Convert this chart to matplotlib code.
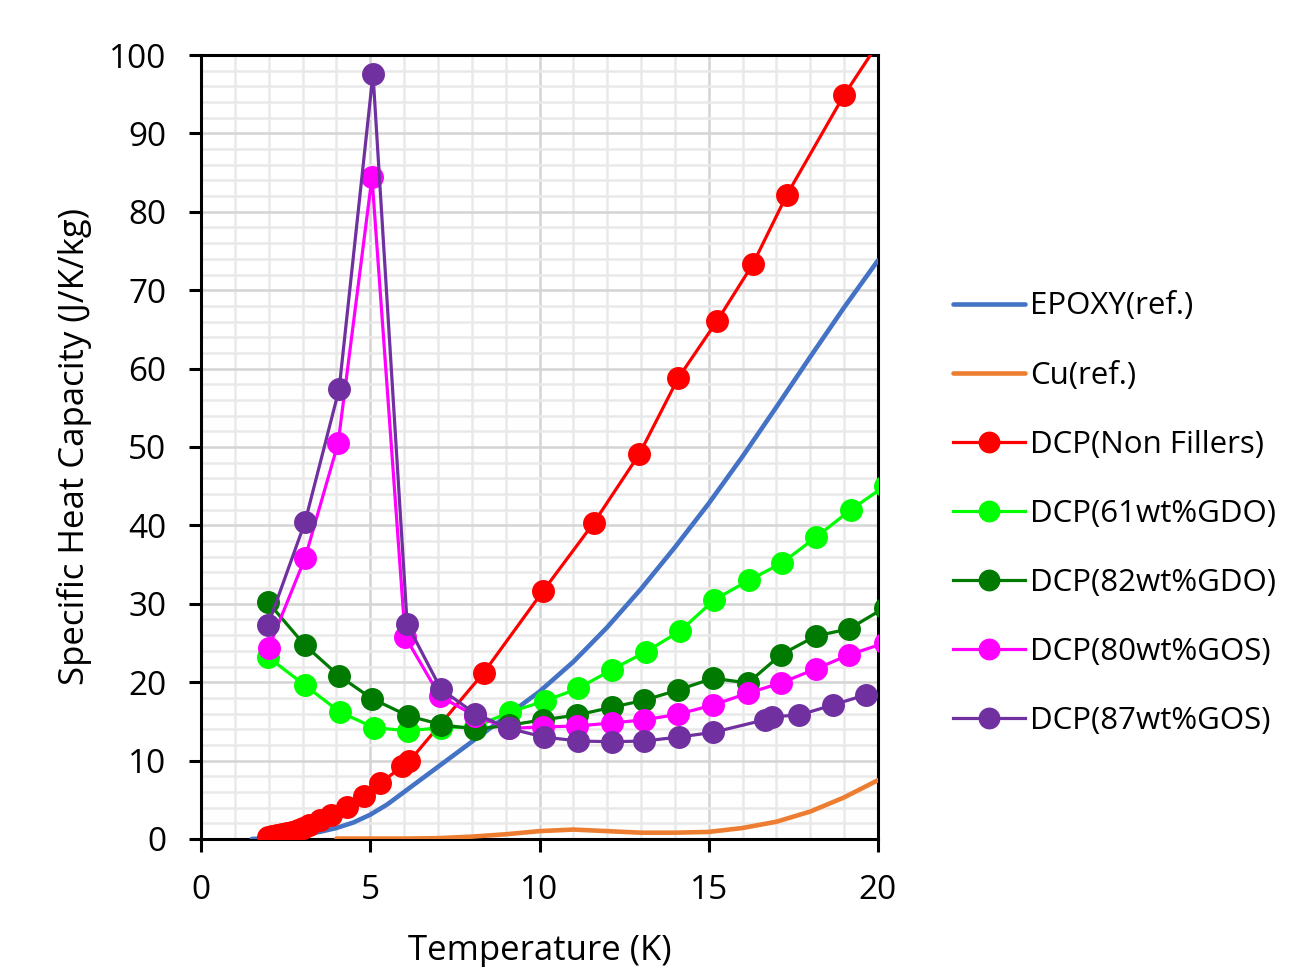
import numpy as np
import matplotlib
matplotlib.use("Agg")
import matplotlib.pyplot as plt
from matplotlib.ticker import MultipleLocator

plt.rcParams['font.family'] = ['Open Sans', 'DejaVu Sans']

# EPOXY (ref.) - smooth reference curve
epoxy_t = [1.5, 2, 2.5, 3, 3.5, 4, 4.5, 5, 5.5, 6, 7, 8, 9, 10, 11, 12, 13, 14, 15, 16,
           17, 18, 19, 20]
epoxy_c = [0.0, 0.1, 0.25, 0.5, 0.9, 1.4, 2.1, 3.1, 4.4, 6.0, 9.2, 12.4, 15.6, 18.8, 22.6,
           27.0, 31.9, 37.2, 42.8, 48.8, 55.1, 61.5, 67.8, 73.8]

# Cu (ref.)
cu_t = [4, 5, 6, 7, 8, 9, 10, 11, 12, 13, 14, 15, 16, 17, 18, 19, 20]
cu_c = [0.05, 0.05, 0.05, 0.1, 0.3, 0.6, 1.0, 1.2, 1.0, 0.8, 0.8, 0.9, 1.4, 2.2, 3.5, 5.3, 7.5]

# DCP (Non Fillers)
nf_t = [1.98, 2.1, 2.25, 2.4, 2.55, 2.7, 2.85, 3.0, 3.2, 3.5, 3.85, 4.3, 4.8, 5.3, 5.95, 6.15,
        8.35, 10.1, 11.6, 12.95, 14.1, 15.25, 16.3, 17.3, 19.0, 21.0]
nf_c = [0.25, 0.35, 0.5, 0.65, 0.8, 0.95, 1.1, 1.35, 1.8, 2.4, 3.1, 4.1, 5.5, 7.1, 9.3, 9.9,
        21.2, 31.6, 40.3, 49.1, 58.8, 66.1, 73.3, 82.1, 94.9, 108.0]

# DCP (61wt%GDO)
g61_t = [1.98, 3.07, 4.1, 5.11, 6.12, 7.09, 8.09, 9.13, 10.16, 11.14, 12.14, 13.15, 14.15,
         15.16, 16.19, 17.16, 18.17, 19.2, 20.2]
g61_c = [23.2, 19.6, 16.2, 14.2, 13.8, 14.2, 14.3, 16.2, 17.6, 19.2, 21.6, 23.9, 26.5,
         30.5, 33.0, 35.2, 38.5, 42.0, 45.0]

# DCP (82wt%GDO)
g82_t = [1.98, 3.07, 4.08, 5.05, 6.12, 7.09, 8.1, 9.1, 10.1, 11.1, 12.14, 13.1, 14.09,
         15.13, 16.16, 17.13, 18.17, 19.15, 20.2]
g82_c = [30.2, 24.7, 20.8, 17.9, 15.7, 14.6, 14.0, 14.5, 15.2, 15.8, 16.8, 17.7, 19.0,
         20.5, 19.9, 23.5, 25.9, 26.8, 29.5]

# DCP (80wt%GOS)
s80_t = [2.0, 3.07, 4.05, 5.05, 6.03, 7.06, 8.1, 9.1, 10.1, 11.1, 12.14, 13.1, 14.09,
         15.13, 16.16, 17.13, 18.17, 19.15, 20.2]
s80_c = [24.4, 35.8, 50.5, 84.4, 25.8, 18.2, 15.7, 14.1, 14.3, 14.4, 14.8, 15.2, 15.9,
         17.1, 18.6, 19.9, 21.7, 23.5, 25.0]

# DCP (87wt%GOS)
s87_t = [1.98, 3.07, 4.08, 5.08, 6.09, 7.09, 8.09, 9.1, 10.13, 11.14, 12.14, 13.1, 14.12,
         15.13, 16.66, 16.87, 17.67, 18.67, 19.65]
s87_c = [27.3, 40.4, 57.4, 97.6, 27.4, 19.1, 16.0, 14.1, 13.0, 12.5, 12.4, 12.5, 13.0,
         13.6, 15.2, 15.6, 15.8, 17.1, 18.4]

fig = plt.figure(figsize=(13.03, 9.67), dpi=100)
ax = fig.add_axes([0.1543, 0.1324, 0.5195, 0.8107])

ms = 15.5
lw = 2.3
ax.plot(epoxy_t, epoxy_c, color='#4472C4', lw=3.3, label='EPOXY(ref.)', zorder=3,
        solid_capstyle='round', solid_joinstyle='round')
ax.plot(cu_t, cu_c, color='#ED7D31', lw=3.3, label='Cu(ref.)', zorder=3,
        solid_capstyle='round', solid_joinstyle='round')
ax.plot(nf_t, nf_c, color='#FF0000', lw=lw, marker='o', ms=ms, label='DCP(Non Fillers)', zorder=4)
ax.plot(g61_t, g61_c, color='#00FF00', lw=lw, marker='o', ms=ms, label='DCP(61wt%GDO)', zorder=5)
ax.plot(g82_t, g82_c, color='#007A00', lw=lw, marker='o', ms=ms, label='DCP(82wt%GDO)', zorder=6)
ax.plot(s80_t, s80_c, color='#FF00FF', lw=lw, marker='o', ms=ms, label='DCP(80wt%GOS)', zorder=7)
ax.plot(s87_t, s87_c, color='#7030A0', lw=lw, marker='o', ms=ms, label='DCP(87wt%GOS)', zorder=8)

ax.set_xlim(0, 20)
ax.set_ylim(0, 100)
ax.xaxis.set_major_locator(MultipleLocator(5))
ax.xaxis.set_minor_locator(MultipleLocator(1))
ax.yaxis.set_major_locator(MultipleLocator(10))
ax.yaxis.set_minor_locator(MultipleLocator(2))
ax.grid(which='major', color='#D4D4D4', lw=1.8, zorder=0)
ax.grid(which='minor', color='#E9E9E9', lw=1.8, zorder=0)
ax.set_axisbelow(True)

for s in ax.spines.values():
    s.set_linewidth(2.2)
ax.tick_params(which='major', direction='out', length=9, width=2.2, labelsize=24)
ax.tick_params(axis='y', pad=16)
ax.tick_params(axis='x', pad=16)
ax.tick_params(which='minor', length=0)

ax.set_xlabel('Temperature (K)', fontsize=25, labelpad=20)
ax.set_ylabel('Specific Heat Capacity (J/K/kg)', fontsize=25, labelpad=12)

ax.legend(loc='center left', bbox_to_anchor=(1.07, 0.415), frameon=False, fontsize=22.5,
          handlelength=2.3, handletextpad=0.15, labelspacing=1.25, markerscale=0.95)

fig.savefig('out.png', dpi=100)
